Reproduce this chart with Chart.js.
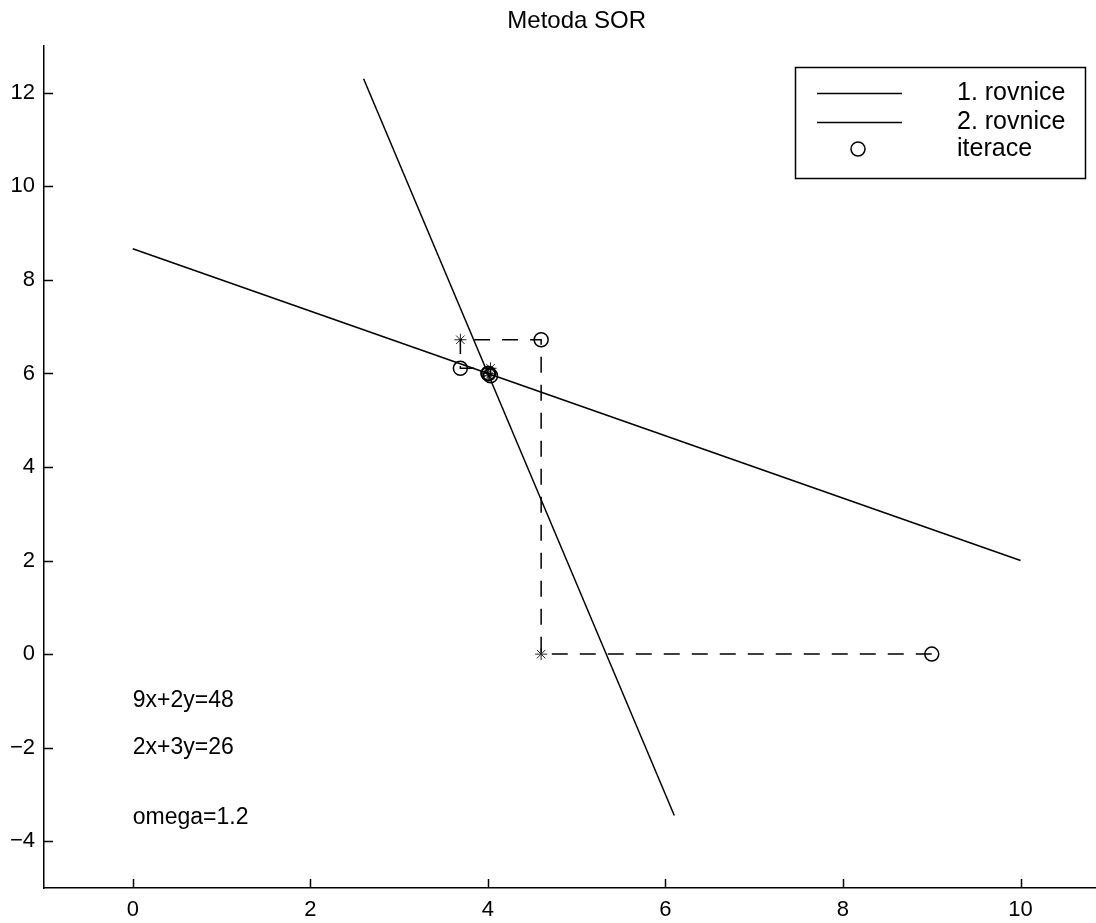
<!DOCTYPE html>
<html>
<head>
<meta charset="utf-8">
<script src="https://cdn.jsdelivr.net/npm/chart.js@4/dist/chart.umd.min.js"></script>
<style>
  body { margin: 0; background: #fff; }
  canvas { display: block; }
</style>
</head>
<body>
<canvas id="sorChart" width="1096" height="923"></canvas>
<script>
// Data
const line1X = [2.6, 6.1];
const line1Y = [12.3, -3.45];
const line2X = [0, 10];
const line2Y = [8.667, 2];
// iteration points (circles) and intermediate steps (stars)
const iterX = [9, 4.6, 3.69, 4.03, 4.01, 4.0];
const iterY = [0, 6.72, 6.11, 5.95, 6.0, 6.0];
const halfX = [4.6, 3.69, 4.03, 4.01, 4.0];
const halfY = [0, 6.72, 6.11, 5.95, 6.0];
const xTicks = [0, 2, 4, 6, 8, 10];
const yTicks = [-4, -2, 0, 2, 4, 6, 8, 10, 12];
const legendLabels = ['1. rovnice', '2. rovnice', 'iterace'];
const noteLabels = ['9x+2y=48', '2x+3y=26', 'omega=1.2'];
const noteX = [0, 0, 0];
const noteY = [-1, -2, -3.5];
const titleText = 'Metoda SOR';

const FONT = '"Liberation Sans", Arial, Helvetica, sans-serif';

function toPoints(xs, ys) {
    return xs.map((x, i) => ({ x: x, y: ys[i] }));
}

// dashed path: circle -> star -> circle -> ...
const pathPoints = [];
iterX.forEach((x, i) => {
    pathPoints.push({ x: x, y: iterY[i] });
    if (i < halfX.length) pathPoints.push({ x: halfX[i], y: halfY[i] });
});

// Title, inner tick marks, text notes and the boxed legend
const decorations = {
    id: 'decorations',
    afterDraw(chart) {
        const ctx = chart.ctx;
        const xs = chart.scales.x;
        const ys = chart.scales.y;
        const area = chart.chartArea;
        ctx.save();
        ctx.strokeStyle = '#000';
        ctx.lineWidth = 1.5;

        xTicks.forEach(v => {
            const px = Math.round(xs.getPixelForValue(v)) + 0.5;
            ctx.beginPath();
            ctx.moveTo(px, area.bottom);
            ctx.lineTo(px, area.bottom - 9);
            ctx.stroke();
        });
        yTicks.forEach(v => {
            const py = Math.round(ys.getPixelForValue(v)) + 0.5;
            ctx.beginPath();
            ctx.moveTo(area.left, py);
            ctx.lineTo(area.left + 9, py);
            ctx.stroke();
        });

        ctx.fillStyle = '#000';
        ctx.textBaseline = 'middle';
        ctx.textAlign = 'center';
        ctx.font = '24px ' + FONT;
        const mid = (xs.getPixelForValue(-1) + xs.getPixelForValue(11)) / 2;
        ctx.fillText(titleText, mid, 21);

        ctx.textAlign = 'left';
        ctx.font = '23px ' + FONT;
        noteLabels.forEach((t, i) => {
            ctx.fillText(t, xs.getPixelForValue(noteX[i]), ys.getPixelForValue(noteY[i]));
        });

        // legend box
        ctx.fillStyle = '#fff';
        ctx.fillRect(795, 67, 290, 111);
        ctx.strokeRect(795.5, 67.5, 290, 111);
        const rows = [93, 122, 149];
        [0, 1].forEach(i => {
            ctx.beginPath();
            ctx.moveTo(817, rows[i] + 0.5);
            ctx.lineTo(902, rows[i] + 0.5);
            ctx.stroke();
        });
        ctx.beginPath();
        ctx.arc(858, rows[2], 7, 0, Math.PI * 2);
        ctx.stroke();
        ctx.fillStyle = '#000';
        ctx.font = '25px ' + FONT;
        legendLabels.forEach((t, i) => ctx.fillText(t, 957, rows[i]));
        ctx.restore();
    }
};

const ctx = document.getElementById('sorChart').getContext('2d');
new Chart(ctx, {
    type: 'scatter',
    data: {
        datasets: [{
            label: legendLabels[0],
            data: toPoints(line1X, line1Y),
            showLine: true,
            borderColor: '#000',
            borderWidth: 1.5,
            pointRadius: 0,
        }, {
            label: legendLabels[1],
            data: toPoints(line2X, line2Y),
            showLine: true,
            borderColor: '#000',
            borderWidth: 1.5,
            pointRadius: 0,
        }, {
            label: 'path',
            data: pathPoints,
            showLine: true,
            borderColor: '#000',
            borderWidth: 1.5,
            borderDash: [16, 12],
            pointRadius: 0,
        }, {
            label: legendLabels[2],
            data: toPoints(iterX, iterY),
            showLine: false,
            pointStyle: 'circle',
            pointRadius: 7,
            pointBorderWidth: 1.5,
            borderColor: '#000',
            backgroundColor: 'rgba(0,0,0,0)',
        }, {
            label: 'steps',
            data: toPoints(halfX, halfY),
            showLine: false,
            pointStyle: 'star',
            pointRadius: 6,
            pointBorderWidth: 1,
            borderColor: '#222',
            backgroundColor: '#222',
        }]
    },
    options: {
        responsive: false,
        animation: false,
        layout: { autoPadding: false, padding: { top: 46, left: 0, right: 0, bottom: 0 } },
        plugins: {
            legend: { display: false },
            title: { display: false },
            tooltip: { enabled: false },
        },
        scales: {
            x: {
                type: 'linear',
                min: -1,
                max: 10.85,
                grid: { display: false },
                border: { display: true, color: '#000', width: 1.5 },
                ticks: {
                    color: '#000',
                    padding: 1,
                    font: { family: FONT, size: 22 },
                    callback: v => String(v).replace('-', '\u2212'),
                },
                afterBuildTicks: s => { s.ticks = xTicks.map(v => ({ value: v })); },
                afterFit: s => { s.height = 35; s.paddingLeft = 0; s.paddingRight = 0; },
            },
            y: {
                type: 'linear',
                min: -5,
                max: 13,
                grid: { display: false },
                border: { display: true, color: '#000', width: 1.5 },
                ticks: {
                    color: '#000',
                    padding: 1,
                    font: { family: FONT, size: 22 },
                    callback: v => String(v).replace('-', '\u2212'),
                },
                afterBuildTicks: s => { s.ticks = yTicks.map(v => ({ value: v })); },
                afterFit: s => { s.width = 44; s.paddingTop = 0; s.paddingBottom = 0; },
            },
        },
    },
    plugins: [decorations],
});
</script>
</body>
</html>
